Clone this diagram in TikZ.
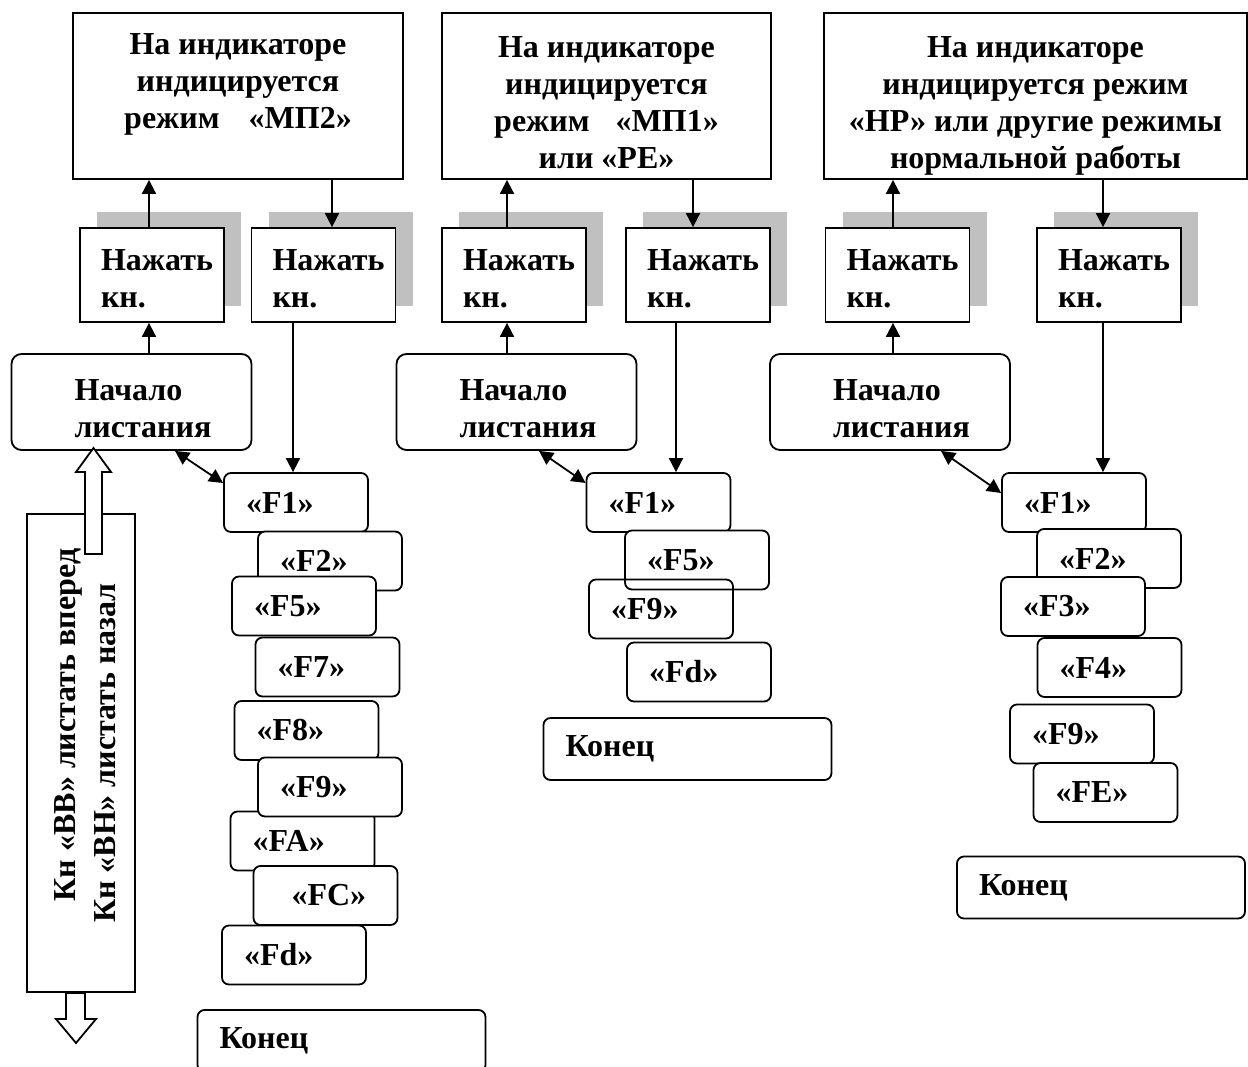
\documentclass[tikz,border=0pt]{standalone}
\usepackage{fontspec}
\setmainfont{Liberation Serif}
\usetikzlibrary{arrows.meta}
\usetikzlibrary{shadows}
\definecolor{shadowgray}{RGB}{192,192,192}

\begin{document}
\begin{tikzpicture}[x=0.5pt,y=-0.5pt,
         font=\bfseries\fontsize{16}{18.5}\selectfont,
         line width=0.9pt,
         lift/.style = {execute at begin node={\rule{0pt}{#1}}},
         arr/.style = {-{Triangle[length=7pt,width=7pt]}},
         darr/.style = {{Triangle[length=7pt,width=7pt]}-{Triangle[length=7pt,width=7pt]}},
         indbox/.style = {draw,rectangle,minimum height=83pt,inner ysep=0pt,align=center},
         pressbox/.style = {draw,rectangle,fill=white,minimum height=47pt,
            text width=51pt,inner xsep=10.5pt,align=left,lift=14.6pt,
            drop shadow={shadow xshift=8.5pt,shadow yshift=8pt,fill=shadowgray,opacity=1}},
         startbox/.style = {draw,rounded corners=5pt,minimum height=48pt,
            text width=57pt,inner xsep=31.5pt,align=left,lift=17.6pt},
         fbox/.style = {draw,rounded corners=3.5pt,fill=white,minimum height=29.5pt,
            text width=50pt,inner xsep=11pt,align=left},
         endbox/.style = {draw,rounded corners=3.5pt,fill=white,minimum height=31pt,
            text width=122pt,inner xsep=11pt,align=left}
]
   \useasboundingbox (0,0) rectangle (1248,1066);
   \clip (0,0) rectangle (1248,1066);

   % indicator windows
   \node[indbox,minimum width=165pt] (ind1) at (238,96)
      {\rule{0pt}{19.6pt}На индикаторе\\индицируется\\режим\hspace{14.5pt}«МП2»\\ \strut};
   \node[indbox,minimum width=164.5pt] (ind2) at (606.5,96)
      {\rule{0pt}{17.6pt}На индикаторе\\индицируется\\режим\hspace{13pt}«МП1»\\или «РЕ»};
   \node[indbox,minimum width=211.5pt] (ind3) at (1035.5,96)
      {\rule{0pt}{20.6pt}На индикаторе\\индицируется режим\\«НР» или другие режимы\\нормальной работы};

   % buttons
   \node[pressbox] (pr1a) at (152,275)    {Нажать\\кн.};
   \node[pressbox] (pr1b) at (323.5,275)  {Нажать\\кн.};
   \node[pressbox] (pr2a) at (514,275)    {Нажать\\кн.};
   \node[pressbox] (pr2b) at (698,275)    {Нажать\\кн.};
   \node[pressbox] (pr3a) at (897.5,275)  {Нажать\\кн.};
   \node[pressbox] (pr3b) at (1109,275)   {Нажать\\кн.};

   \node[startbox] (nach1) at (131.5,402) {Начало\\листания};
   \node[startbox] (nach2) at (516.5,402) {Начало\\листания};
   \node[startbox] (nach3) at (890,402)   {Начало\\листания};

   % list 1
   \node[fbox] (c1f1) at (296,502.5)  {«F1»};
   \node[fbox] (c1f2) at (330,561)    {«F2»};
   \node[fbox] (c1f5) at (304,606)    {«F5»};
   \node[fbox] (c1f7) at (327.5,667)  {«F7»};
   \node[fbox] (c1f8) at (306.5,730.5){«F8»};
   \node[fbox] (c1fa) at (302.5,841)  {«FA»};
   \node[fbox] (c1f9) at (330,787)    {«F9»};
   \node[fbox] (c1fc) at (325.5,895.5){\hspace*{8pt}«FC»};
   \node[fbox] (c1fd) at (294,955)    {«Fd»};
   \node[endbox] (end1) at (341.5,1041) {Конец};

   % list 2
   \node[fbox] (c2f1) at (658.5,502.5) {«F1»};
   \node[fbox] (c2f5) at (697,560)     {«F5»};
   \node[fbox,fill=none] (c2f9) at (661,609) {«F9»};
   \node[fbox] (c2fd) at (699,672)     {«Fd»};
   \node[endbox] (end2) at (687.5,749) {Конец};

   % list 3
   \node[fbox] (c3f1) at (1074,502.5)  {«F1»};
   \node[fbox] (c3f2) at (1109,558.5)  {«F2»};
   \node[fbox] (c3f3) at (1073,606.5)  {«F3»};
   \node[fbox] (c3f4) at (1109.5,667.5){«F4»};
   \node[fbox] (c3f9) at (1082,734)    {«F9»};
   \node[fbox] (c3fe) at (1105.5,792.5){«FE»};
   \node[endbox] (end3) at (1101,887.5) {Конец};

   % scrolling keys
   \node[draw,minimum width=54pt,minimum height=239pt] (keys) at (81,753) {};
   \node[rotate=90] (fwd) at (68,725)   {Кн «ВВ» листать вперед};
   \node[rotate=90] (back) at (105,753) {Кн «ВН» листать назал};
   \draw[fill=white] (85,554) -- (85,472) -- (76,472) -- (93.5,448) -- (111,472)
      -- (102,472) -- (102,554) -- cycle;
   \draw[fill=white] (66,993) -- (66,1019) -- (56,1019) -- (76,1043) -- (96,1019)
      -- (85,1019) -- (85,993) -- cycle;

   % connectors
   \draw[arr] ([xshift=8.75pt]nach1.north) -- ([xshift=8.75pt]nach1.north |- pr1a.south);
   \draw[arr] ([xshift=-1.5pt]pr1a.north) -- ([xshift=-1.5pt]pr1a.north |- ind1.south);
   \draw[arr] ([xshift=4.25pt]pr1b.north |- ind1.south) -- ([xshift=4.25pt]pr1b.north);
   \draw[arr] ([xshift=-15.25pt]pr1b.south) -- ([xshift=-15.25pt]pr1b.south |- c1f1.north);
   \draw[darr] ([xshift=21.75pt]nach1.south) -- ([yshift=9.75pt]c1f1.west);

   \draw[arr] ([xshift=-4.75pt]nach2.north) -- ([xshift=-4.75pt]nach2.north |- pr2a.south);
   \draw[arr] ([xshift=-3.5pt]pr2a.north) -- ([xshift=-3.5pt]pr2a.north |- ind2.south);
   \draw[arr] ([xshift=-2.5pt]pr2b.north |- ind2.south) -- ([xshift=-2.5pt]pr2b.north);
   \draw[arr] ([xshift=-11pt]pr2b.south) -- ([xshift=-11pt]pr2b.south |- c2f1.north);
   \draw[darr] ([xshift=11.25pt]nach2.south) -- ([yshift=9.75pt]c2f1.west);

   \draw[arr] ([xshift=1.5pt]nach3.north) -- ([xshift=1.5pt]nach3.north |- pr3a.south);
   \draw[arr] ([xshift=-2.25pt]pr3a.north) -- ([xshift=-2.25pt]pr3a.north |- ind3.south);
   \draw[arr] ([xshift=-3pt]pr3b.north |- ind3.south) -- ([xshift=-3pt]pr3b.north);
   \draw[arr] ([xshift=-3pt]pr3b.south) -- ([xshift=-3pt]pr3b.south |- c3f1.north);
   \draw[darr] ([xshift=25.5pt]nach3.south) -- ([yshift=4.75pt]c3f1.west);
\end{tikzpicture}
\end{document}
